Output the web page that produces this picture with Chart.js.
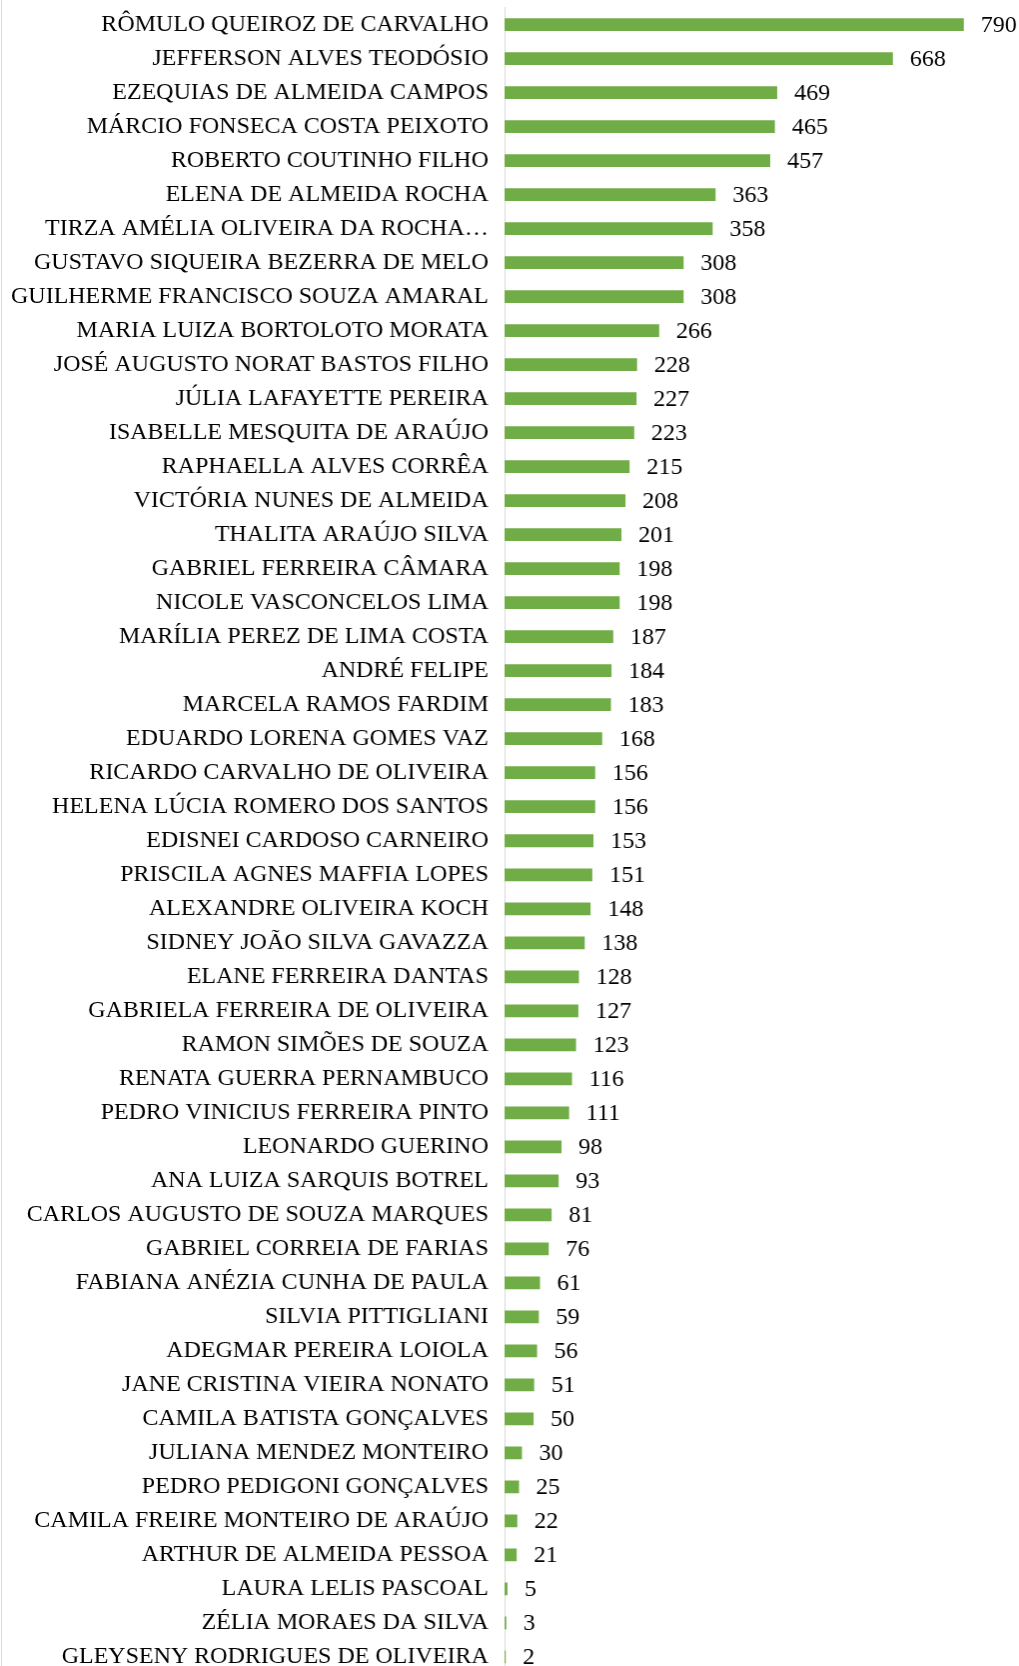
<!DOCTYPE html>
<html>
<head>
<meta charset="utf-8">
<script src="https://cdn.jsdelivr.net/npm/chart.js@4"></script>
<style>
html,body{margin:0;padding:0;background:#fff;overflow:hidden;height:1666px;}
#wrap{position:relative;width:1019px;height:1666px;overflow:hidden;}
#c{position:absolute;left:1px;top:0;border-left:1px solid #d9d9d9;}
</style>
</head>
<body>
<div id="wrap"><canvas id="c" width="1017" height="1674"></canvas></div>
<script>
const categories = [
  "RÔMULO QUEIROZ DE CARVALHO",
  "JEFFERSON ALVES TEODÓSIO",
  "EZEQUIAS DE ALMEIDA CAMPOS",
  "MÁRCIO FONSECA COSTA PEIXOTO",
  "ROBERTO COUTINHO FILHO",
  "ELENA DE ALMEIDA ROCHA",
  "TIRZA AMÉLIA OLIVEIRA DA ROCHA…",
  "GUSTAVO SIQUEIRA BEZERRA DE MELO",
  "GUILHERME FRANCISCO SOUZA AMARAL",
  "MARIA LUIZA BORTOLOTO MORATA",
  "JOSÉ AUGUSTO NORAT BASTOS FILHO",
  "JÚLIA LAFAYETTE PEREIRA",
  "ISABELLE MESQUITA DE ARAÚJO",
  "RAPHAELLA ALVES CORRÊA",
  "VICTÓRIA NUNES DE ALMEIDA",
  "THALITA ARAÚJO SILVA",
  "GABRIEL FERREIRA CÂMARA",
  "NICOLE VASCONCELOS LIMA",
  "MARÍLIA PEREZ DE LIMA COSTA",
  "ANDRÉ FELIPE",
  "MARCELA RAMOS FARDIM",
  "EDUARDO LORENA GOMES VAZ",
  "RICARDO CARVALHO DE OLIVEIRA",
  "HELENA LÚCIA ROMERO DOS SANTOS",
  "EDISNEI CARDOSO CARNEIRO",
  "PRISCILA AGNES MAFFIA LOPES",
  "ALEXANDRE OLIVEIRA KOCH",
  "SIDNEY JOÃO SILVA GAVAZZA",
  "ELANE FERREIRA DANTAS",
  "GABRIELA FERREIRA DE OLIVEIRA",
  "RAMON SIMÕES DE SOUZA",
  "RENATA GUERRA PERNAMBUCO",
  "PEDRO VINICIUS FERREIRA PINTO",
  "LEONARDO GUERINO",
  "ANA LUIZA SARQUIS BOTREL",
  "CARLOS AUGUSTO DE SOUZA MARQUES",
  "GABRIEL CORREIA DE FARIAS",
  "FABIANA ANÉZIA CUNHA DE PAULA",
  "SILVIA PITTIGLIANI",
  "ADEGMAR PEREIRA LOIOLA",
  "JANE CRISTINA VIEIRA NONATO",
  "CAMILA BATISTA GONÇALVES",
  "JULIANA MENDEZ MONTEIRO",
  "PEDRO PEDIGONI GONÇALVES",
  "CAMILA FREIRE MONTEIRO DE ARAÚJO",
  "ARTHUR DE ALMEIDA PESSOA",
  "LAURA LELIS PASCOAL",
  "ZÉLIA MORAES DA SILVA",
  "GLEYSENY RODRIGUES DE OLIVEIRA"
];
const values = [
  790, 668, 469, 465, 457, 363, 358, 308, 308, 266,
  228, 227, 223, 215, 208, 201, 198, 198, 187, 184,
  183, 168, 156, 156, 153, 151, 148, 138, 128, 127,
  123, 116, 111, 98, 93, 81, 76, 61, 59, 56,
  51, 50, 30, 25, 22, 21, 5, 3, 2
];
const axisMax = 800;

const FONT = '"Liberation Serif", "Times New Roman", serif';

const valueLabels = {
  id: 'valueLabels',
  afterDatasetsDraw(chart) {
    const ctx = chart.ctx;
    const meta = chart.getDatasetMeta(0);
    ctx.save();
    ctx.font = '24px ' + FONT;
    ctx.fillStyle = '#000';
    ctx.textAlign = 'left';
    ctx.textBaseline = 'middle';
    meta.data.forEach((bar, i) => {
      ctx.fillText(String(values[i]), bar.x + 17, bar.y + 1);
    });
    ctx.restore();
  }
};

new Chart(document.getElementById('c'), {
  type: 'bar',
  data: {
    labels: categories,
    datasets: [{
      data: values,
      backgroundColor: '#70AD47',
      borderWidth: 0,
      categoryPercentage: 1,
      barPercentage: 0.375
    }]
  },
  options: {
    indexAxis: 'y',
    responsive: false,
    animation: false,
    devicePixelRatio: 1,
    layout: { padding: { top: 7.5, right: 48.4, bottom: 0, left: 0 } },
    plugins: { legend: { display: false }, tooltip: { enabled: false } },
    scales: {
      x: {
        display: false,
        min: 0,
        max: axisMax
      },
      y: {
        offset: true,
        grid: { display: false, drawTicks: false },
        border: { display: true, color: '#d9d9d9', width: 1 },
        ticks: {
          color: '#000',
          padding: 16,
          autoSkip: false,
          font: { family: FONT, size: 24 }
        },
        afterFit(scale) {
          scale.width = 503;
          scale.paddingTop = 0;
          scale.paddingBottom = 0;
        }
      }
    }
  },
  plugins: [valueLabels]
});
</script>
</body>
</html>
